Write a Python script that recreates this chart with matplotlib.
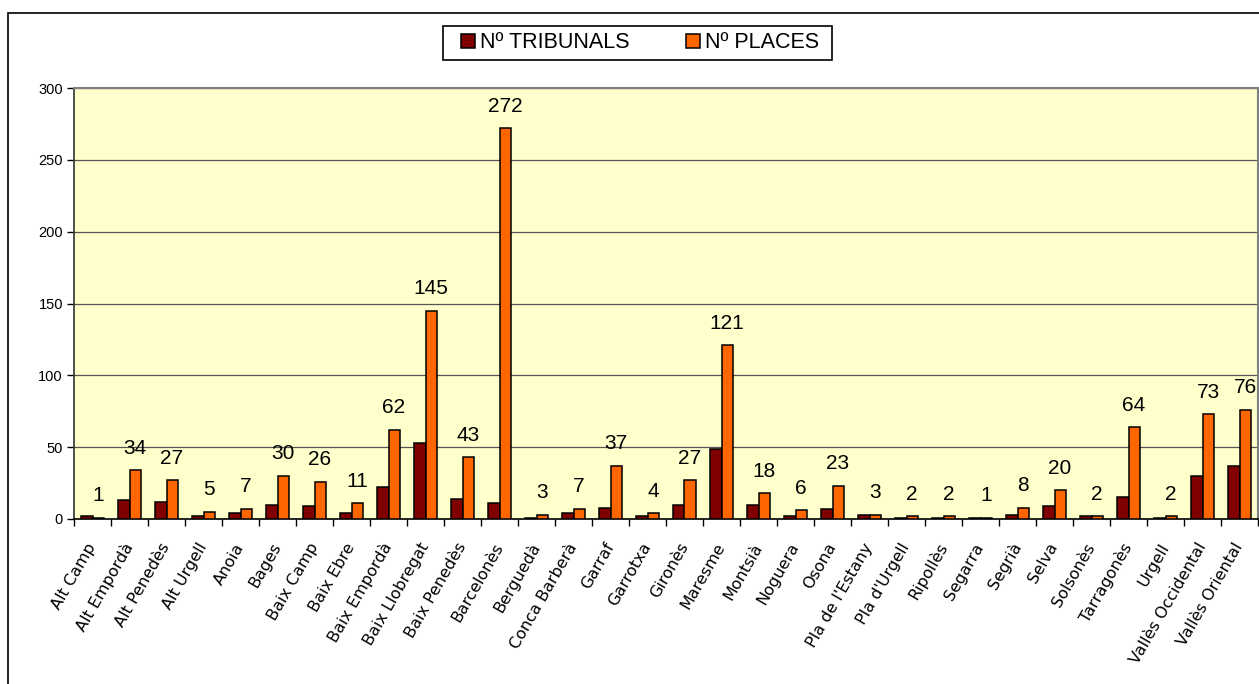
import numpy as np
import matplotlib
matplotlib.use("Agg")
import matplotlib.pyplot as plt
from matplotlib.patches import Rectangle

comarques = ["Alt Camp", "Alt Empordà", "Alt Penedès", "Alt Urgell", "Anoia", "Bages",
             "Baix Camp", "Baix Ebre", "Baix Empordà", "Baix Llobregat", "Baix Penedès",
             "Barcelonès", "Berguedà", "Conca Barberà", "Garraf", "Garrotxa", "Gironès",
             "Maresme", "Montsià", "Noguera", "Osona", "Pla de l'Estany", "Pla d'Urgell",
             "Ripollès", "Segarra", "Segrià", "Selva", "Solsonès", "Tarragonès", "Urgell",
             "Vallès Occidental", "Vallès Oriental"]
tribunals = [2, 13, 12, 2, 4, 10, 9, 4, 22, 53, 14, 11, 1, 4, 8, 2, 10, 49, 10, 2, 7, 3,
             1, 1, 1, 3, 9, 2, 15, 1, 30, 37]
places = [1, 34, 27, 5, 7, 30, 26, 11, 62, 145, 43, 272, 3, 7, 37, 4, 27, 121, 18, 6, 23, 3,
          2, 2, 1, 8, 20, 2, 64, 2, 73, 76]
yticks = [0, 50, 100, 150, 200, 250, 300]

W, H = 1259, 684
fig = plt.figure(figsize=(W / 100, H / 100), dpi=100)

# outer chart border (cut at the right and bottom in the original)
fig.patches.append(Rectangle((8 / W, -0.05), 1.2, 1 - 13 / H + 0.05, transform=fig.transFigure,
                             fill=False, edgecolor="black", linewidth=1.2))

ax = fig.add_axes([74 / W, 1 - 519 / H, (1258 - 74) / W, (519 - 88) / H])
ax.set_facecolor("#FFFFCC")

x = np.arange(len(comarques))
bw = 0.3
ax.bar(x - bw / 2, tribunals, bw, color="#800000", edgecolor="black", linewidth=1.1,
       label="Nº TRIBUNALS", zorder=3)
ax.bar(x + bw / 2, places, bw, color="#FF6600", edgecolor="black", linewidth=1.1,
       label="Nº PLACES", zorder=3)

for xi, v in zip(x, places):
    ax.annotate(str(v), (xi + bw / 2, v), xytext=(0, 9), textcoords="offset points",
                ha="center", va="bottom", fontsize=15, family="Liberation Sans")

ax.set_xlim(-0.5, len(comarques) - 0.5)
ax.set_ylim(0, 300)
ax.set_yticks(yticks)
ax.set_yticklabels([str(t) for t in yticks], family="Liberation Sans", fontsize=10.5)
ax.yaxis.grid(True, color="#555555", linewidth=0.9, zorder=0)
ax.set_axisbelow(True)

ax.set_xticks(x)
ax.set_xticklabels(comarques, rotation=60, ha="right", va="center", rotation_mode="anchor",
                   family="DejaVu Sans", fontsize=11.5)
ax.set_xticks(np.arange(len(comarques) + 1) - 0.5, minor=True)
ax.tick_params(axis="x", which="major", length=0, pad=18)
ax.tick_params(axis="x", which="minor", length=5, width=1, color="black", direction="out")
ax.tick_params(axis="y", length=5, width=1, color="black", direction="out", pad=3)

for s in ["top", "right"]:
    ax.spines[s].set_color("#808080")
    ax.spines[s].set_linewidth(1.5)
ax.spines["left"].set_color("#333333")
ax.spines["left"].set_linewidth(1.2)
ax.spines["bottom"].set_color("black")
ax.spines["bottom"].set_linewidth(1.2)

# legend box
fig.patches.append(Rectangle((443 / W, 1 - 60 / H), (832 - 443) / W, 34 / H,
                             transform=fig.transFigure, facecolor="white",
                             edgecolor="black", linewidth=1.2, zorder=5))
leg = fig.legend(loc="center", bbox_to_anchor=(640 / W, 1 - 43 / H), ncol=2, frameon=False,
                 prop={"family": "Liberation Sans", "size": 15.5}, handlelength=0.65,
                 handleheight=0.65, handletextpad=0.25, columnspacing=2.6)
leg.set_zorder(6)

fig.savefig("out.png", dpi=100)
